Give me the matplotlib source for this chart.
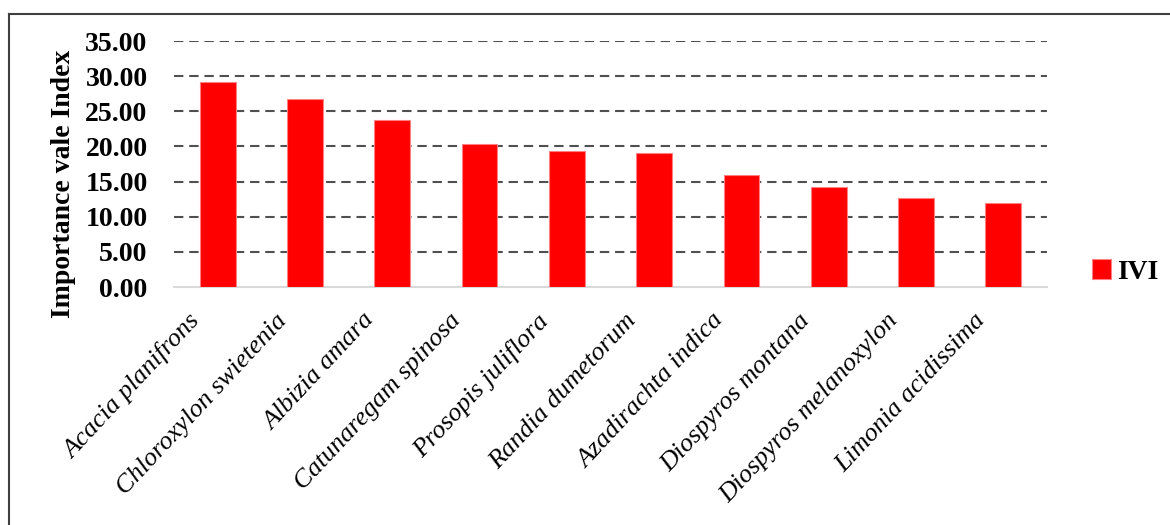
import numpy as np
import matplotlib.pyplot as plt
import matplotlib.transforms as mtransforms
from matplotlib.lines import Line2D

species = ['Acacia planifrons', 'Chloroxylon swietenia', 'Albizia amara',
           'Catunaregam spinosa', 'Prosopis juliflora', 'Randia dumetorum',
           'Azadirachta indica', 'Diospyros montana', 'Diospyros melanoxylon',
           'Limonia acidissima']
ivi = [29.1, 26.7, 23.7, 20.3, 19.3, 19.1, 15.9, 14.3, 12.7, 11.9]
yticks = [0, 5, 10, 15, 20, 25, 30, 35]

plt.rcParams['font.family'] = ['Liberation Serif', 'DejaVu Serif']

fig = plt.figure(figsize=(11.7, 5.25), dpi=100)
ax = fig.add_axes([0.1487, 0.4533, 0.7462, 0.4686])

x = np.arange(len(species))
ax.bar(x, ivi, width=0.41, color='#ff0000', edgecolor='#ff8080',
       linewidth=0.8, zorder=3, label='IVI')

ax.set_xlim(-0.5, len(species) - 0.5)
ax.set_ylim(0, 35)
ax.set_yticks(yticks)
ax.set_yticklabels(['%.2f' % v for v in yticks], fontsize=20, fontweight='bold')
ax.tick_params(axis='y', length=0, pad=19)
ax.tick_params(axis='x', length=0, pad=4)
ax.set_xticks(x)
ax.set_xticklabels(species, rotation=47, ha='right', va='top',
                   rotation_mode='anchor', fontsize=19, style='italic')
shift = mtransforms.ScaledTranslation(-0.30, -0.17, fig.dpi_scale_trans)
for lab in ax.get_xticklabels():
    lab.set_transform(lab.get_transform() + shift)

for v in yticks[1:]:
    ax.axhline(v, color='#505050', linestyle=(0, (4.5, 2.8)), linewidth=1.5,
               zorder=1)

for s in ['top', 'right', 'left']:
    ax.spines[s].set_visible(False)
ax.spines['bottom'].set_color('#d9d9d9')
ax.spines['bottom'].set_linewidth(1.5)

ax.set_ylabel('Importance vale Index', fontsize=20, fontweight='bold')
ax.yaxis.set_label_coords(-0.112, 0.42)

leg = fig.legend(loc='center left', bbox_to_anchor=(0.912, 0.482),
                 frameon=False, prop={'size': 20, 'weight': 'bold'},
                 handlelength=0.7, handleheight=0.7, handletextpad=0.2)

# outer frame (top and left edges)
fig.add_artist(Line2D([9 / 1170, 1], [1 - 14 / 525, 1 - 14 / 525],
                      color='#404040', linewidth=1.5, transform=fig.transFigure))
fig.add_artist(Line2D([9 / 1170, 9 / 1170], [0, 1 - 14 / 525],
                      color='#404040', linewidth=1.5, transform=fig.transFigure))

fig.savefig('out.png', dpi=100, facecolor='white')
